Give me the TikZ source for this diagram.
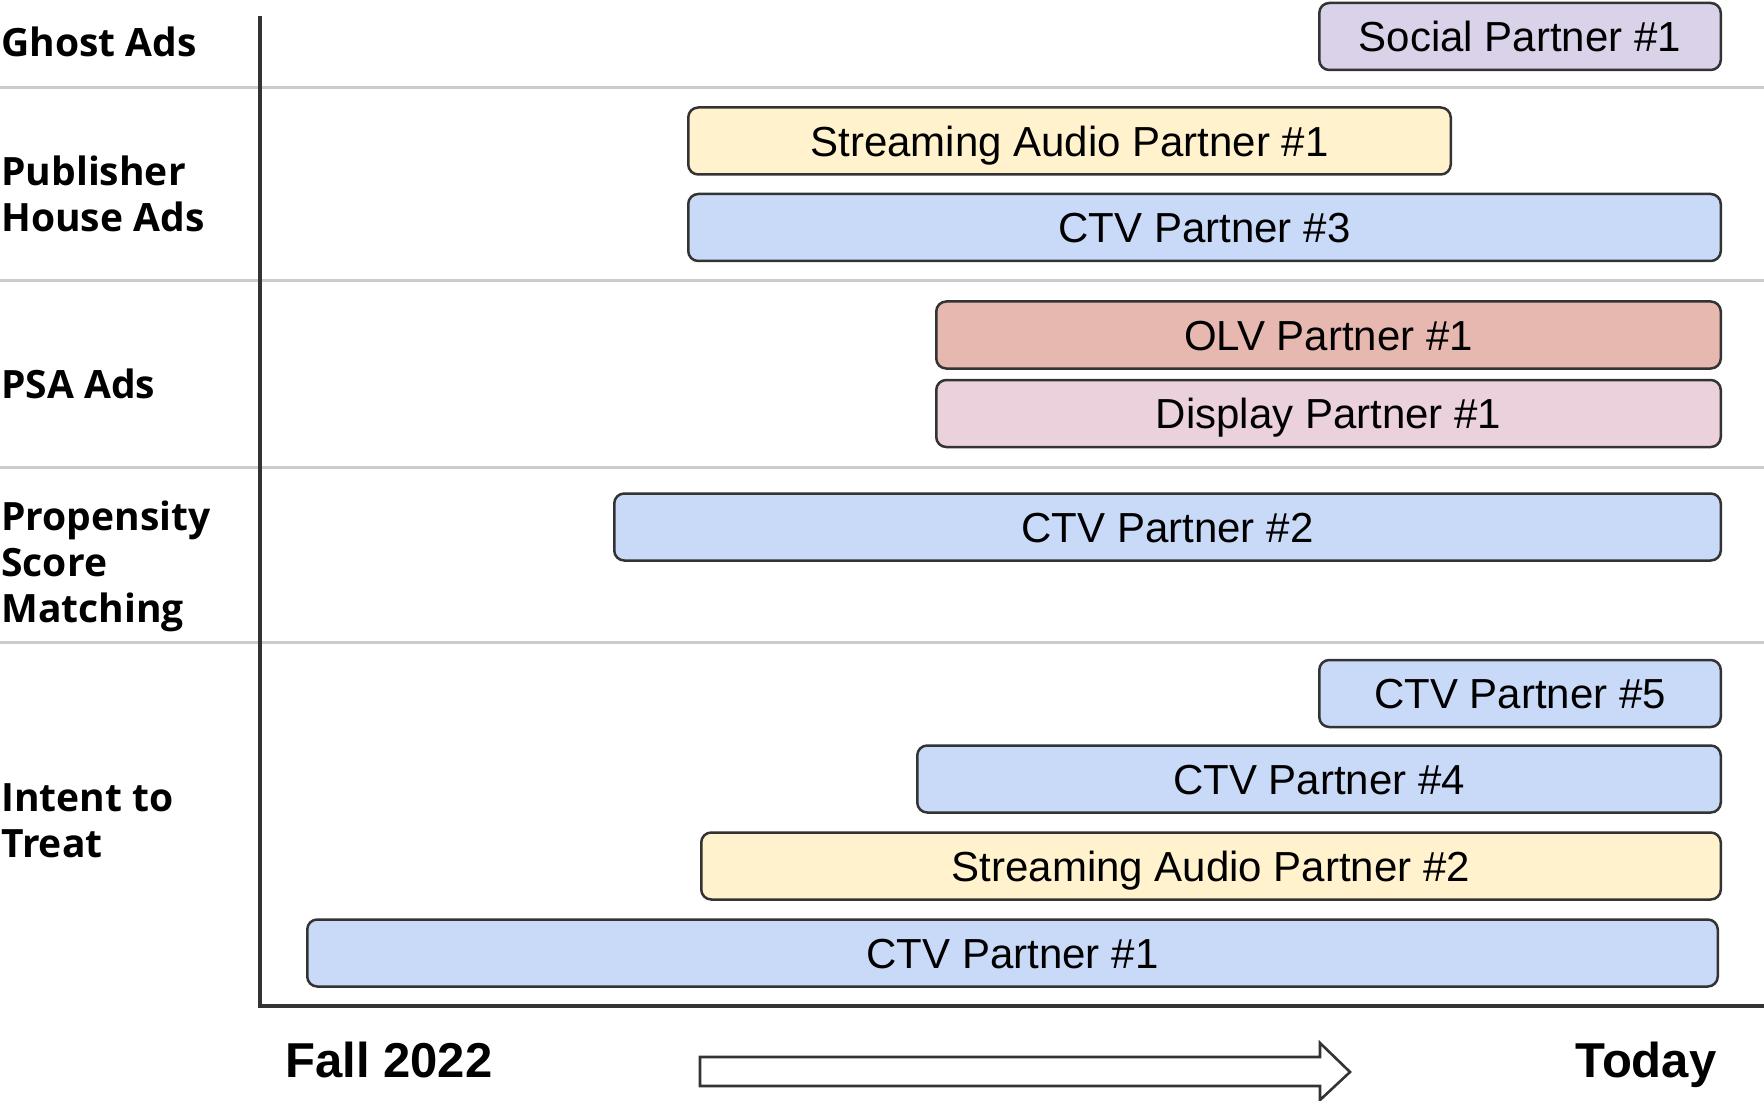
\documentclass[tikz,border=0pt]{standalone}
\usepackage{fontspec}
\setmainfont{Liberation Sans}
\newfontfamily\rowfont{Open Sans}
\definecolor{edge}{HTML}{333333}
\definecolor{rule}{HTML}{CCCCCC}
\definecolor{social}{HTML}{D9D2E9}
\definecolor{audio}{HTML}{FFF2CC}
\definecolor{ctv}{HTML}{C9DAF8}
\definecolor{olv}{HTML}{E6B8AF}
\definecolor{display}{HTML}{EAD1DC}
\tikzset{
  bar/.style={draw=edge, line width=1.25pt, rounded corners=5pt, inner sep=0pt,
    font=\fontsize{21}{25}\selectfont, text height=15.04pt, text depth=0pt,
    minimum height=33.5pt},
  rowlabel/.style={anchor=base west, inner sep=0pt, align=left,
    font=\rowfont\bfseries\fontsize{19.5}{23}\selectfont},
  timelabel/.style={inner sep=0pt, font=\bfseries\fontsize{24.5}{28}\selectfont,
    text height=17.54pt, text depth=0pt},
  separator/.style={draw=rule, line width=1.5pt},
  axis/.style={draw=edge, line width=2pt, line join=miter},
  timearrow/.style={draw=edge, line width=1.3pt, fill=white, line join=miter}
}
\begin{document}
\begin{tikzpicture}[x=0.5pt, y=-0.5pt]
\useasboundingbox (0,0) rectangle (1764,1101);

% row separators
\foreach \yy in {88,281,467,642}
  \draw[separator] (0,\yy) -- (1764,\yy);

% axes
\coordinate (ytop) at (260,16);
\coordinate (origin) at (260,1006);
\coordinate (xend) at (1764,1006);
\draw[axis] (ytop) -- (origin) -- (xend);

% row labels (anchored at the baseline of their last line)
\node[rowlabel] (lghost) at (1,57) {Ghost Ads};
\node[rowlabel] (lpub) at (1,232) {Publisher\\House Ads};
\node[rowlabel] (lpsa) at (1,398) {PSA Ads};
\node[rowlabel] (lpsm) at (1,622) {Propensity\\Score\\Matching};
\node[rowlabel] (litt) at (1,857) {Intent to\\Treat};

% partner bars
\node[bar, fill=social, minimum width=200.75pt] (soc) at (1520,36.5) {Social Partner \#1};
\node[bar, fill=audio, minimum width=381.25pt] (sa1) at (1069.5,141) {Streaming Audio Partner \#1};
\node[bar, fill=ctv, minimum width=516.25pt] (ctv3) at (1204.5,227.5) {CTV Partner \#3};
\node[bar, fill=olv, minimum width=392.25pt] (olv1) at (1328.5,335) {OLV Partner \#1};
\node[bar, fill=display, minimum width=392.25pt] (disp1) at (1328.5,413.5) {Display Partner \#1};
\node[bar, fill=ctv, minimum width=553.25pt] (ctv2) at (1167.5,527) {CTV Partner \#2};
\node[bar, fill=ctv, minimum width=200.75pt] (ctv5) at (1520,693.5) {CTV Partner \#5};
\node[bar, fill=ctv, minimum width=401.75pt] (ctv4) at (1319,779) {CTV Partner \#4};
\node[bar, fill=audio, minimum width=509.75pt] (sa2) at (1211,866) {Streaming Audio Partner \#2};
\node[bar, fill=ctv, minimum width=705.25pt] (ctv1) at (1012.5,953) {CTV Partner \#1};

% time axis labels
\node[timelabel] (fall) at (389,1059.5) {Fall 2022};
\node[timelabel] (today) at (1646,1059.5) {Today};

% block arrow pointing towards today
\draw[timearrow] (700,1057) -- (1320,1057) -- (1320,1043) -- (1350,1072)
  -- (1320,1100) -- (1320,1086) -- (700,1086) -- cycle;
\end{tikzpicture}
\end{document}
